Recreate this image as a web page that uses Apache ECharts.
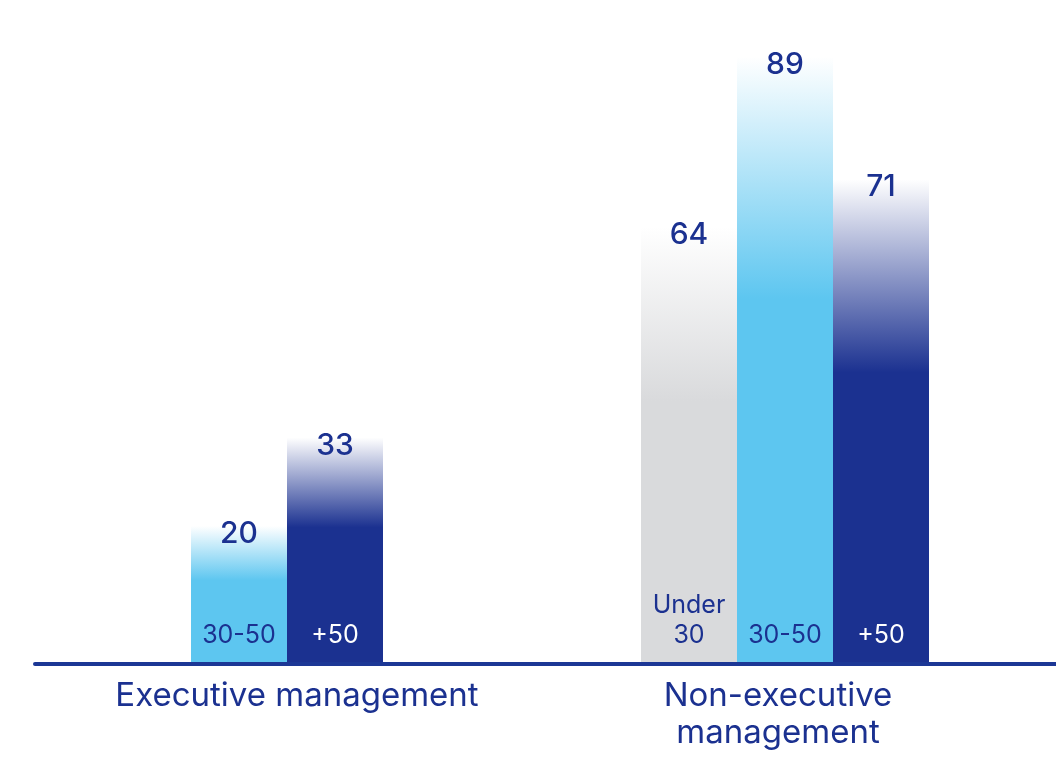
<!DOCTYPE html>
<html>
<head>
<meta charset="utf-8">
<script src="https://cdn.jsdelivr.net/npm/echarts@6/dist/echarts.min.js"></script>
<style>
  html, body { margin: 0; padding: 0; background: #ffffff; }
  #chart { width: 1056px; height: 758px; }
</style>
</head>
<body>
<div id="chart"></div>
<script>
// Management headcount by age group
const categories = ['Executive management', 'Non-executive\nmanagement'];
const ageGroups = ['Under\n30', '30-50', '+50'];
const under30 = [null, 64];
const age30to50 = [20, 89];
const over50 = [33, 71];

const groupValues = [under30, age30to50, over50];
const groupColors = ['#d9dadc', '#5dc6f0', '#1b3190'];
const groupTextColors = ['#1b3190', '#1b3190', '#ffffff'];
const navy = '#1b3190';
const font = 'Inter';

// Pack each category's present groups into adjacent slots, left to right
const slotCount = 3;
const slots = Array.from({ length: slotCount }, () => categories.map(() => null));
categories.forEach((c, ci) => {
  let k = 0;
  groupValues.forEach((vals, gi) => {
    if (vals[ci] != null) {
      slots[k][ci] = { group: gi, value: vals[ci] };
      k++;
    }
  });
});

function fade(color) {
  return new echarts.graphic.LinearGradient(0, 0, 0, 1, [
    { offset: 0, color: '#ffffff' },
    { offset: 0.4, color: color },
    { offset: 1, color: color }
  ]);
}

const series = [];
slots.forEach((slot, si) => {
  const stack = 'slot' + si;
  // zero-height bar carrying the age-group name just above the baseline
  series.push({
    type: 'bar',
    stack: stack,
    barWidth: 96,
    barGap: '0%',
    z: 4,
    itemStyle: { color: 'rgba(0,0,0,0)' },
    label: {
      show: true,
      position: 'top',
      distance: 12,
      fontFamily: font,
      fontSize: 25,
      lineHeight: 30,
      align: 'center'
    },
    data: slot.map(s => s == null ? null : {
      value: 0,
      label: { formatter: ageGroups[s.group], color: groupTextColors[s.group] }
    })
  });
  // the bar itself, fading to white at its top, with its value
  series.push({
    type: 'bar',
    stack: stack,
    barWidth: 96,
    barGap: '0%',
    z: 2,
    label: {
      show: true,
      position: 'insideTop',
      distance: 0,
      offset: [0, -7],
      fontFamily: font,
      fontSize: 30,
      fontWeight: 500,
      color: navy,
      formatter: p => p.value
    },
    data: slot.map(s => s == null ? null : {
      value: s.value,
      itemStyle: { color: fade(groupColors[s.group]) }
    })
  });
});

const chart = echarts.init(document.getElementById('chart'), null, { renderer: 'canvas' });
chart.setOption({
  backgroundColor: '#ffffff',
  animation: false,
  grid: [
    { left: 110, right: 46, top: 16, bottom: 96 },
    { left: 35, right: 0, top: 16, bottom: 94 }
  ],
  xAxis: [
    {
      type: 'category',
      gridIndex: 0,
      data: categories,
      axisLine: { show: false },
      axisTick: { show: false },
      axisLabel: {
        margin: 16,
        interval: 0,
        formatter: (v, i) => (i === 0 ? '{a|' + v + '}' : v.split('\n').map(t => '{b|' + t + '}').join('\n')),
        rich: {
          a: { fontFamily: font, fontSize: 33, lineHeight: 37, color: navy, padding: [0, 76, 0, 0] },
          b: { fontFamily: font, fontSize: 33, lineHeight: 37, color: navy, padding: [0, 14, 0, 0] }
        }
      }
    },
    {
      type: 'category',
      gridIndex: 1,
      data: [''],
      axisLine: { show: true, lineStyle: { color: '#1c3795', width: 4, cap: 'round' } },
      axisTick: { show: false },
      axisLabel: { show: false }
    }
  ],
  yAxis: [
    { type: 'value', gridIndex: 0, min: 0, max: 95, show: false },
    { type: 'value', gridIndex: 1, min: 0, max: 1, show: false }
  ],
  series: series
});
</script>
</body>
</html>
